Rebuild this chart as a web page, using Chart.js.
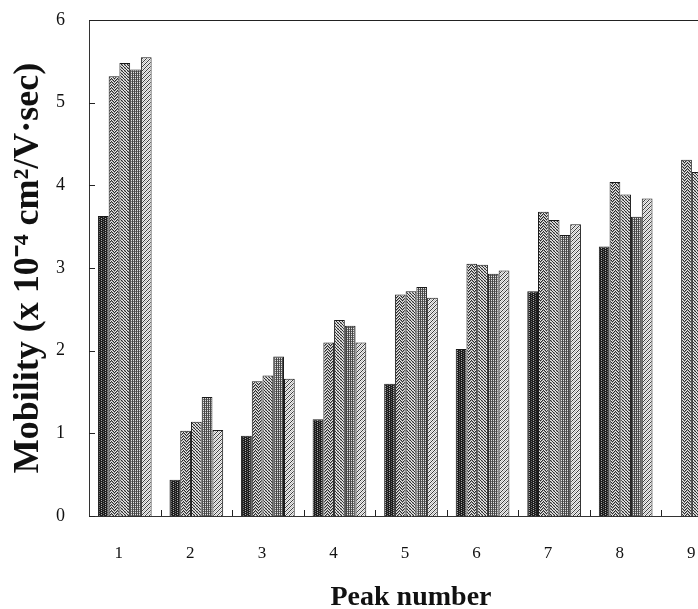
<!DOCTYPE html>
<html>
<head>
<meta charset="utf-8">
<script src="https://cdn.jsdelivr.net/npm/chart.js@4.4.0/dist/chart.umd.min.js"></script>
<style>
html,body{margin:0;padding:0;background:#fff;overflow:hidden;}
#wrap{width:740px;height:609px;}
</style>
</head>
<body>
<div id="wrap"><canvas id="c" width="740" height="609"></canvas></div>
<script>
const categories = ["1","2","3","4","5","6","7","8","9"];
const series1 = [3.63, 0.44, 0.97, 1.17, 1.60, 2.02, 2.72, 3.26, null];
const series2 = [5.32, 1.03, 1.63, 2.10, 2.68, 3.05, 3.68, 4.04, 4.31];
const series3 = [5.48, 1.14, 1.70, 2.37, 2.72, 3.04, 3.58, 3.89, 4.16];
const series4 = [5.40, 1.44, 1.93, 2.30, 2.77, 2.93, 3.40, 3.62, 3.95];
const series5 = [5.55, 1.04, 1.66, 2.10, 2.64, 2.97, 3.53, 3.84, 4.10];
const yTicks = [0,1,2,3,4,5,6];

function makePattern(w, h, fn){
  const cv = document.createElement('canvas');
  cv.width = w; cv.height = h;
  const cx = cv.getContext('2d');
  const img = cx.createImageData(w, h);
  for(let y=0;y<h;y++){
    for(let x=0;x<w;x++){
      const v = fn(x,y);
      const i=(y*w+x)*4;
      img.data[i]=v;img.data[i+1]=v;img.data[i+2]=v;img.data[i+3]=255;
    }
  }
  cx.putImageData(img,0,0);
  return cx.createPattern(cv,'repeat');
}
const ctxMain = document.getElementById('c').getContext('2d');
const pat0 = makePattern(4,4,(x,y)=> (x===1 && y%2===0) ? 170 : (x===3 && y%2===1 ? 110 : 30));
const pat1 = makePattern(6,6,(x,y)=> { const d = x<3 ? (x+y)%3 : (y-x+9)%3; return d===0 ? 40 : (d===1 ? 150 : 235); });
const pat2 = makePattern(3,3,(x,y)=> ((x-y+6)%3===0) ? 45 : ((x+y)%3===0 ? 170 : 225));
const pat3 = makePattern(4,4,(x,y)=> (x%2===0 ? 70 : (y%2===0 ? 225 : 110)));
const pat4 = makePattern(4,4,(x,y)=> ((x+y)%4===0) ? 60 : ((x+y)%4===2 ? 190 : 240));

const ticksPlugin = {
  id:'frameTicks',
  afterDraw(chart){
    const {ctx, chartArea:a, scales} = chart;
    ctx.save();
    ctx.strokeStyle='#222';
    ctx.lineWidth=1;
    ctx.beginPath();
    ctx.moveTo(a.left, a.top+0.5); ctx.lineTo(a.right, a.top+0.5);
    yTicks.forEach(v=>{
      const y = Math.round(scales.y.getPixelForValue(v))+0.5;
      ctx.moveTo(a.left, y); ctx.lineTo(a.left+6, y);
    });
    for(let i=1;i<categories.length;i++){
      const x = Math.round((scales.x.getPixelForValue(i-1)+scales.x.getPixelForValue(i))/2)+0.5;
      ctx.moveTo(x, a.bottom); ctx.lineTo(x, a.bottom-6);
    }
    ctx.stroke();
    ctx.restore();
  }
};

const common = {borderColor:'#1a1a1a', borderWidth:1, categoryPercentage:0.75, barPercentage:1.0};
new Chart(ctxMain, {
  type:'bar',
  data:{
    labels:categories,
    datasets:[
      Object.assign({label:'A', data:series1, backgroundColor:pat0}, common),
      Object.assign({label:'B', data:series2, backgroundColor:pat1}, common),
      Object.assign({label:'C', data:series3, backgroundColor:pat2}, common),
      Object.assign({label:'D', data:series4, backgroundColor:pat3}, common),
      Object.assign({label:'E', data:series5, backgroundColor:pat4}, common)
    ]
  },
  options:{
    responsive:false,
    animation:false,
    devicePixelRatio:1,
    layout:{padding:{left:0, right:7, top:20, bottom:0}},
    plugins:{legend:{display:false}, tooltip:{enabled:false}},
    scales:{
      x:{
        grid:{display:false, drawTicks:false},
        border:{display:true, color:'#333', width:1},
        ticks:{color:'#111', font:{family:'Liberation Serif', size:17}, padding:27, labelOffset:-6},
        title:{display:true, text:'Peak number', color:'#111', font:{family:'Liberation Serif', size:28, weight:'bold', lineHeight:1}, padding:{top:0,bottom:-3}},
        afterFit(s){ s.height = 93; }
      },
      y:{
        min:0, max:6,
        grid:{display:false, drawTicks:true, tickLength:20},
        border:{display:true, color:'#333', width:1},
        ticks:{stepSize:1, color:'#111', font:{family:'Liberation Serif', size:18}, padding:4},
        title:{display:true, text:'Mobility (x 10\u207B\u2074 cm\u00B2/V\u00B7sec)', color:'#111', font:{family:'Liberation Serif', size:36, weight:'bold', lineHeight:1}, padding:{top:11,bottom:0}},
        afterFit(s){ s.width = 89; }
      }
    }
  },
  plugins:[ticksPlugin]
});
</script>
</body>
</html>
